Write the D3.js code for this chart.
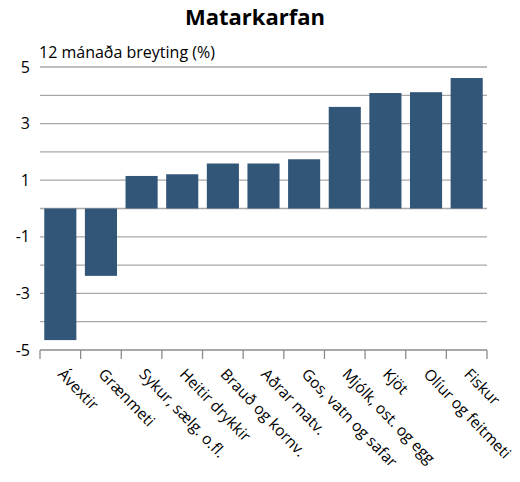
<!DOCTYPE html>
<html>
<head>
<meta charset="utf-8">
<script src="https://cdn.jsdelivr.net/npm/d3@7"></script>
<style>
    body { margin: 0; background: #fff; }
    text { font-family: "Open Sans", sans-serif; fill: #000; }
</style>
</head>
<body>
<script>
//chart data
var categories = ["Ávextir", "Grænmeti", "Sykur, sælg. o.fl.", "Heitir drykkir", "Brauð og kornv.",
    "Aðrar matv.", "Gos, vatn og safar", "Mjólk, ost. og egg", "Kjöt", "Olíur og feitmeti", "Fiskur"];
var values = [-4.65, -2.38, 1.15, 1.21, 1.59, 1.59, 1.74, 3.59, 4.08, 4.11, 4.61];
var yTicks = [5, 3, 1, -1, -3, -5];
var gridTicks = [5, 4, 3, 2, 1, 0, -1, -2, -3, -4];

function drawChart(){
    var width = 520,
        height = 482;

    var margin = {left: 40, right: 33, top: 67, bottom: 132};

    var svg = d3.select("body")
        .append("svg")
        .attr("width", width)
        .attr("height", height);

    //scales
    var x = d3.scaleBand()
        .domain(categories)
        .range([margin.left, width - margin.right])
        .paddingInner(0.21)
        .paddingOuter(0.105);

    var y = d3.scaleLinear()
        .domain([-5, 5])
        .range([height - margin.bottom, margin.top]);

    //title
    svg.append("text")
        .attr("x", 255)
        .attr("y", 25)
        .attr("text-anchor", "middle")
        .style("font-size", "22px")
        .style("font-weight", "bold")
        .text("Matarkarfan");

    svg.append("text")
        .attr("x", 39)
        .attr("y", 58)
        .style("font-size", "16px")
        .text("12 mánaða breyting (%)");

    //gridlines
    svg.selectAll(".grid")
        .data(gridTicks)
        .enter()
        .append("line")
        .attr("class", "grid")
        .attr("x1", margin.left)
        .attr("x2", width - margin.right)
        .attr("y1", function(d){ return y(d); })
        .attr("y2", function(d){ return y(d); })
        .attr("stroke", "#a8a8a8")
        .attr("stroke-width", 1.3);

    //y axis labels (plain hyphen for minus, like the original)
    var yAxis = d3.axisLeft(y)
        .tickValues(yTicks)
        .tickSize(0)
        .tickPadding(10)
        .tickFormat(function(d){ return String(d); });

    var yG = svg.append("g")
        .attr("transform", "translate(" + margin.left + ",0)")
        .call(yAxis);
    yG.select(".domain").remove();
    yG.selectAll("text").style("font-size", "16px");

    //bars
    svg.selectAll(".bar")
        .data(values)
        .enter()
        .append("rect")
        .attr("class", "bar")
        .attr("x", function(d, i){ return x(categories[i]); })
        .attr("width", x.bandwidth())
        .attr("y", function(d){ return y(Math.max(0, d)); })
        .attr("height", function(d){ return Math.abs(y(d) - y(0)); })
        .attr("fill", "#325678");

    //x axis at bottom
    var xG = svg.append("g")
        .attr("transform", "translate(0," + y(-5) + ")");

    xG.append("line")
        .attr("x1", margin.left)
        .attr("x2", width - margin.right)
        .attr("stroke", "#8c8c8c")
        .attr("stroke-width", 1.3);

    //category boundaries for the tick marks
    var step = x.step();
    var edges = d3.range(categories.length + 1).map(function(i){
        return x(categories[0]) - (step - x.bandwidth()) / 2 + i * step;
    });

    xG.selectAll(".xtick")
        .data(edges)
        .enter()
        .append("line")
        .attr("class", "xtick")
        .attr("x1", function(d){ return d; })
        .attr("x2", function(d){ return d; })
        .attr("y1", 0)
        .attr("y2", 9)
        .attr("stroke", "#8c8c8c")
        .attr("stroke-width", 1.3);

    xG.selectAll(".xlab")
        .data(categories)
        .enter()
        .append("text")
        .attr("class", "xlab")
        .attr("transform", function(d){
            return "translate(" + (x(d) + x.bandwidth() / 2 + 5) + ",17) rotate(46)";
        })
        .attr("dy", "0.75em")
        .style("font-size", "15.5px")
        .text(function(d){ return d; });
}

window.onload = drawChart;
</script>
</body>
</html>
